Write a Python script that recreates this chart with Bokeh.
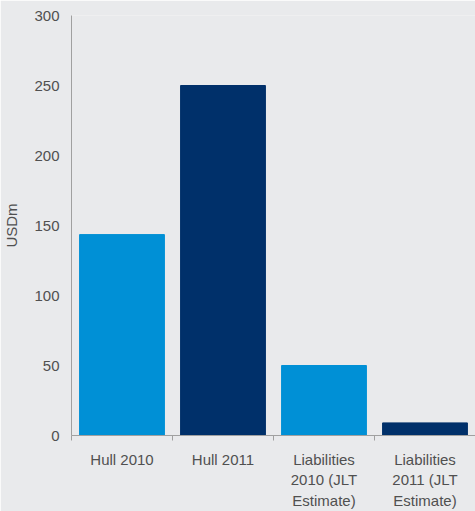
from bokeh.plotting import figure
from bokeh.models import FixedTicker, ColumnDataSource, Range1d
from bokeh.embed import file_html
from bokeh.resources import INLINE

categories = ["Hull 2010", "Hull 2011", "Liabilities\n2010 (JLT\nEstimate)", "Liabilities\n2011 (JLT\nEstimate)"]
values = [143.5, 250, 50, 9]
bar_colors = ["#0090d6", "#00306a"] * 2
y_ticks = [0, 50, 100, 150, 200, 250, 300]

xs = [i + 0.5 for i in range(len(categories))]
src = ColumnDataSource(dict(x=xs, top=values, color=bar_colors))

FONT = "Liberation Sans"
BG = "#e9eaec"
AX = "#a0a0a0"
TXT = "#505050"

p = figure(width=475, height=511, output_backend="svg", toolbar_location=None,
           x_range=Range1d(0, len(categories)), y_range=Range1d(0, 300),
           min_border_top=15, min_border_right=0, min_border_left=70, min_border_bottom=0)
p.background_fill_color = BG
p.border_fill_color = BG
p.outline_line_color = None
p.grid.visible = False

p.vbar(x="x", top="top", width=0.84, color="color", source=src)

p.xaxis.ticker = FixedTicker(ticks=xs, minor_ticks=list(range(len(categories) + 1)))
p.xaxis.major_label_overrides = {x: c for x, c in zip(xs, categories)}
p.xaxis.major_tick_out = 0
p.xaxis.major_tick_in = 0
p.xaxis.minor_tick_out = 5
p.xaxis.minor_tick_in = 0
p.xaxis.minor_tick_line_color = AX
p.xaxis.major_label_standoff = 10
p.xaxis.major_label_text_line_height = 1.21

p.yaxis.ticker = FixedTicker(ticks=y_ticks)
p.yaxis.minor_tick_line_color = None
p.yaxis.major_tick_out = 5
p.yaxis.major_tick_in = 0
p.yaxis.major_label_standoff = 7
p.yaxis.axis_label = "USDm"
p.yaxis.axis_label_standoff = 11

for ax in (p.xaxis, p.yaxis):
    ax.axis_line_color = AX
    ax.major_tick_line_color = AX if ax is p.yaxis else None
    ax.major_label_text_font = FONT
    ax.major_label_text_font_size = "15px"
    ax.major_label_text_color = TXT
    ax.axis_label_text_font = FONT
    ax.axis_label_text_font_size = "15px"
    ax.axis_label_text_font_style = "normal"
    ax.axis_label_text_color = TXT

open("out.html", "w").write(file_html(p, INLINE))
